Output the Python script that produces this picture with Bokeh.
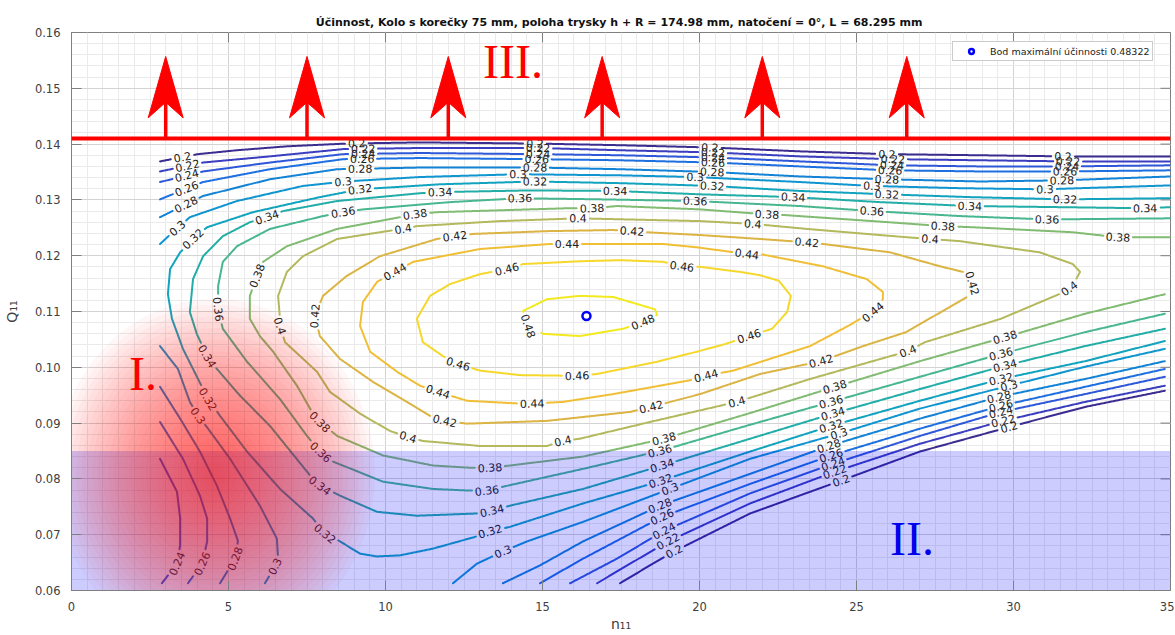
import numpy as np
from bokeh.plotting import figure
from bokeh.models import (Range1d, SingleIntervalTicker, NumeralTickFormatter,
                          ColumnDataSource, Legend, LegendItem, Span)
from bokeh.core.properties import value
from bokeh.embed import file_html
from bokeh.resources import INLINE

# ---------------------------------------------------------------- data
TITLE = ("Účinnost, Kolo s korečky 75 mm,  poloha trysky h + R = 174.98 mm, "
         "natočení = 0°, L = 68.295 mm")
X_TICKS = [0, 5, 10, 15, 20, 25, 30, 35]
Y_TICKS = [0.06, 0.07, 0.08, 0.09, 0.10, 0.11, 0.12, 0.13, 0.14, 0.15, 0.16]
LEVELS = [0.20, 0.22, 0.24, 0.26, 0.28, 0.30, 0.32, 0.34, 0.36, 0.38,
          0.40, 0.42, 0.44, 0.46, 0.48]

# contour 0.20
c20t_x = [2.82, 4.03, 5.27, 6.86, 8.77, 11.10, 14.76, 17.47, 20.33, 23.20, 25.97, 28.93, 31.58, 35.0]
c20t_y = [.1369, .1382, .1389, .1396, .1401, .1403, .1401, .1398, .1394, .1387, .1382, .1380, .1378, .1378]
c20r_x = [17.47, 18.42, 19.19, 21.61, 24.51, 27.02, 29.86, 32.28, 34.82]
c20r_y = [.0613, .0645, .0670, .0738, .0797, .0849, .0893, .0929, .0958]
# contour 0.22
c22t_x = [2.82, 4.19, 6.32, 8.65, 11.10, 14.86, 17.47, 20.43, 23.20, 26.16, 28.93, 31.74, 35.0]
c22t_y = [.1351, .1367, .1378, .1391, .1393, .1393, .1389, .1385, .1378, .1373, .1371, .1369, .1369]
c22r_x = [16.74, 17.79, 19.00, 21.61, 24.31, 27.02, 29.67, 32.28, 34.82]
c22r_y = [.0613, .0648, .0688, .0756, .0813, .0863, .0904, .0938, .0967]
# contour 0.24
c24t_x = [2.82, 4.19, 6.32, 8.65, 11.10, 14.86, 17.47, 20.43, 23.20, 26.13, 28.93, 31.70, 35.0]
c24t_y = [.1332, .1351, .1367, .1382, .1384, .1382, .1380, .1376, .1369, .1362, .1360, .1360, .1362]
c24r_x = [15.88, 17.37, 18.87, 21.61, 24.25, 27.02, 29.60, 32.28, 34.82]
c24r_y = [.0613, .0657, .0707, .0774, .0827, .0877, .0920, .0952, .0983]
c24l_x = [2.82, 3.36, 3.46, 3.46, 3.36, 2.88]
c24l_y = [.0836, .0777, .0729, .0681, .0648, .0613]
# contour 0.26
c26t_x = [2.82, 4.19, 6.32, 8.65, 11.10, 14.82, 17.47, 20.43, 23.20, 26.07, 28.93, 31.64, 35.0]
c26t_y = [.1301, .1332, .1355, .1373, .1375, .1373, .1371, .1367, .1360, .1353, .1351, .1351, .1353]
c26r_x = [14.92, 16.29, 18.81, 21.61, 24.19, 27.02, 29.60, 32.28, 34.82]
c26r_y = [.0613, .0657, .0732, .0791, .0842, .0890, .0931, .0965, .0997]
c26l_x = [2.82, 3.55, 4.09, 4.32, 4.32, 4.16, 3.71]
c26l_y = [.0902, .0836, .0770, .0729, .0688, .0648, .0613]
# contour 0.28
c28t_x = [2.82, 4.19, 6.32, 8.46, 11.10, 14.76, 17.47, 20.40, 23.20, 25.97, 28.93, 31.54, 35.0]
c28t_y = [.1269, .1307, .1337, .1355, .1358, .1358, .1355, .1350, .1342, .1337, .1333, .1335, .1342]
c28r_x = [13.74, 14.92, 16.29, 18.74, 21.61, 24.12, 27.02, 29.54, 32.28, 34.82]
c28r_y = [.0613, .0645, .0688, .0752, .0809, .0859, .0908, .0947, .0979, .1011]
c28l_x = [2.82, 3.46, 4.09, 4.63, 5.05, 5.30, 5.21, 4.73]
c28l_y = [.0965, .0908, .0849, .0788, .0729, .0689, .0657, .0613]
# contour 0.30
c30t_x = [2.82, 3.30, 3.77, 5.27, 7.37, 8.71, 11.10, 14.22, 17.47, 19.86, 23.20, 25.49, 28.30, 31.00, 35.0]
c30t_y = [.1221, .1246, .1269, .1298, .1325, .1333, .1341, .1346, .1344, .1341, .1332, .1325, .1321, .1319, .1326]
c30r_x = [12.15, 12.91, 13.74, 14.51, 16.29, 19.06, 21.61, 24.44, 27.02, 29.86, 32.28, 34.82]
c30r_y = [.0613, .0648, .0670, .0688, .0723, .0782, .0836, .0881, .0926, .0967, .1001, .1033]
c30l_x = [2.82, 3.39, 3.77, 4.03, 4.35, 5.05, 6.00, 6.54, 6.58, 6.48, 6.16]
c30l_y = [.1038, .0997, .0938, .0913, .0890, .0836, .0752, .0693, .0657, .0643, .0613]
# contour 0.32
c32_x = [34.82, 32.28, 29.60, 27.02, 24.19, 21.61, 18.58, 16.29, 13.96, 13.33, 12.91, 11.51, 10.46,
         9.73, 9.19, 8.55, 8.07, 7.69, 6.64, 5.59, 4.73, 4.35, 4.03, 3.55, 3.20, 3.07, 3.14, 3.46,
         3.87, 4.32, 5.78, 7.91, 9.19, 11.74, 14.76, 17.47, 20.40, 23.20, 25.97, 28.61, 31.64, 35.0]
c32_y = [.1047, .1011, .0979, .0940, .0895, .0849, .0793, .0756, .0714, .0706, .0697, .0675, .0663,
         .0661, .0666, .0688, .0702, .0729, .0782, .0849, .0913, .0943, .0979, .1033, .1087, .1131, .1176, .1206,
         .1230, .1251, .1278, .1305, .1319, .1328, .1333, .1330, .1325, .1316, .1310, .1305, .1301, .1303]
# contour 0.34
c34_x = [35.0, 34.19, 31.48, 28.61, 25.75, 22.98, 20.02, 17.31, 14.60, 11.74, 11.10, 8.46, 6.74, 6.23,
         5.68, 4.82, 4.19, 3.87, 3.77, 3.99, 4.32, 4.63, 5.37, 6.32, 7.60, 7.91, 8.55, 9.73, 11.00,
         12.91, 13.39, 13.96, 16.29, 18.81, 21.61, 24.25, 27.02, 29.73, 32.28, 34.82]
c34_y = [.1287, .1285, .1287, .1289, .1296, .1305, .1310, .1316, .1317, .1314, .1312, .1298, .1280, .1269,
         .1260, .1235, .1199, .1158, .1099, .1060, .1020, .0997, .0949, .0895, .0806, .0788, .0770, .0741, .0734,
         .0738, .0743, .0752, .0782, .0824, .0872, .0917, .0961, .1003, .1038, .1069]
# contour 0.36
c36_x = [35.0, 31.07, 28.30, 25.49, 23.20, 19.86, 16.83, 14.28, 12.05, 9.28, 8.65, 8.01, 6.32, 5.27,
         4.82, 4.67, 4.67, 4.82, 5.59, 6.64, 7.50, 7.91, 8.33, 9.92, 11.51, 12.69, 13.23, 13.74, 16.29,
         18.74, 21.61, 24.19, 27.02, 29.60, 32.28, 34.82]
c36_y = [.1267, .1265, .1271, .1280, .1289, .1298, .1301, .1303, .1296, .1283, .1278, .1271, .1248, .1217,
         .1189, .1146, .1104, .1069, .1010, .0943, .0877, .0849, .0831, .0795, .0782, .0779, .0779, .0786, .0818,
         .0850, .0897, .0938, .0983, .1024, .1063, .1096]
# contour 0.38
c38_x = [35.0, 33.33, 31.89, 28.71, 27.75, 25.52, 22.66, 22.15, 20.02, 17.37, 16.58, 15.78, 11.64, 10.94,
         10.46, 8.46, 6.86, 6.10, 5.91, 5.68, 5.68, 6.00, 6.42, 7.18, 7.66, 7.91, 8.46, 9.92, 11.51, 12.69,
         13.33, 13.96, 16.29, 18.87, 21.61, 24.31, 27.02, 29.73, 32.28, 34.82]
c38_y = [.1233, .1233, .1242, .1251, .1253, .1262, .1273, .1274, .1283, .1289, .1285, .1285, .1278, .1274,
         .1269, .1248, .1217, .1189, .1164, .1128, .1087, .1056, .1028, .0967, .0920, .0902, .0877, .0842, .0824, .0820,
         .0820, .0824, .0840, .0872, .0918, .0965, .1011, .1054, .1096, .1131]
# contour 0.40 (closed)
c40_x = [6.64, 6.80, 7.82, 8.23, 9.19, 10.14, 10.72, 11.19, 13.01, 15.14, 15.65, 16.19, 18.42, 21.19,
         23.52, 26.64, 27.18, 29.60, 31.45, 31.86, 32.12, 31.89, 30.84, 28.30, 27.34, 26.61, 23.42, 21.70,
         20.02, 16.13, 13.65, 11.00, 10.56, 10.05, 8.46, 7.37, 6.86, 6.58, 6.64, 6.64]
c40_y = [.1074, .1045, .0992, .0956, .0917, .0886, .0875, .0868, .0859, .0859, .0868, .0872, .0902, .0938,
         .0979, .1029, .1045, .1087, .1131, .1144, .1171, .1185, .1206, .1226, .1230, .1233, .1248, .1257,
         .1262, .1267, .1262, .1253, .1248, .1244, .1230, .1199, .1171, .1128, .1087, .1074]
# contour 0.42 (closed)
c42_x = [28.39, 27.66, 26.07, 23.93, 23.42, 21.93, 20.02, 18.33, 17.85, 17.25, 15.14, 12.79, 12.21,
         11.64, 9.82, 8.77, 8.01, 7.75, 7.91, 8.55, 9.60, 10.68, 11.42, 11.89, 12.60, 15.14, 17.79, 18.46,
         20.02, 21.93, 23.87, 25.21, 26.58, 28.58, 28.71, 28.39]
c42_y = [.1171, .1181, .1206, .1221, .1224, .1230, .1237, .1242, .1244, .1246, .1244, .1239, .1235,
         .1230, .1199, .1164, .1128, .1092, .1056, .1015, .0974, .0938, .0913, .0904, .0899, .0904, .0920, .0929,
         .0952, .0988, .1011, .1038, .1063, .1128, .1149, .1171]
# contour 0.44 (closed)
c44_x = [21.51, 19.92, 18.84, 16.42, 15.78, 15.24, 13.01, 10.88, 10.30, 9.73, 9.28, 9.19, 9.51, 10.37,
         11.10, 11.67, 12.60, 14.28, 14.67, 15.65, 17.25, 19.92, 20.21, 21.07, 23.52, 24.73, 25.21, 25.52,
         25.84, 25.84, 25.33, 23.93, 21.93, 21.51]
c44_y = [.1203, .1215, .1221, .1221, .1221, .1221, .1212, .1189, .1171, .1153, .1117, .1074, .1028, .0992,
         .0967, .0956, .0940, .0935, .0935, .0938, .0952, .0979, .0985, .0994, .1038, .1074, .1090, .1099,
         .1122, .1135, .1158, .1181, .1203, .1203]
# contour 0.46 (closed)
c46_x = [12.31, 13.01, 14.28, 15.65, 16.10, 16.74, 18.65, 19.92, 20.84, 21.58, 22.31, 22.79, 22.91, 22.53,
         21.93, 21.29, 20.02, 19.44, 18.84, 17.47, 16.19, 14.38, 13.87, 13.01, 12.05, 11.42, 11.00, 11.19,
         11.83, 12.31]
c46_y = [.1006, .0994, .0986, .0985, .0985, .0988, .1010, .1028, .1042, .1056, .1069, .1099, .1128, .1155,
         .1165, .1171, .1180, .1181, .1189, .1192, .1190, .1185, .1176, .1167, .1149, .1128, .1087, .1045,
         .1020, .1006]
# contour 0.48 (closed)
c48_x = [14.54, 14.38, 15.14, 16.19, 17.25, 18.58, 18.65, 18.20, 17.56, 16.19, 15.02, 14.54]
c48_y = [.1074, .1101, .1122, .1128, .1126, .1104, .1094, .1081, .1069, .1056, .1060, .1074]

CONTOURS = [
    (0.20, c20t_x, c20t_y), (0.20, c20r_x, c20r_y),
    (0.22, c22t_x, c22t_y), (0.22, c22r_x, c22r_y),
    (0.24, c24t_x, c24t_y), (0.24, c24r_x, c24r_y), (0.24, c24l_x, c24l_y),
    (0.26, c26t_x, c26t_y), (0.26, c26r_x, c26r_y), (0.26, c26l_x, c26l_y),
    (0.28, c28t_x, c28t_y), (0.28, c28r_x, c28r_y), (0.28, c28l_x, c28l_y),
    (0.30, c30t_x, c30t_y), (0.30, c30r_x, c30r_y), (0.30, c30l_x, c30l_y),
    (0.32, c32_x, c32_y), (0.34, c34_x, c34_y), (0.36, c36_x, c36_y),
    (0.38, c38_x, c38_y), (0.40, c40_x, c40_y), (0.42, c42_x, c42_y),
    (0.44, c44_x, c44_y), (0.46, c46_x, c46_y), (0.48, c48_x, c48_y),
]

# contour label positions (n11, Q11) per level
LABELS = {
    0.20: [(3.55, .1376), (9.09, .1400), (14.76, .1400), (20.33, .1394), (25.97, .1382), (31.58, .1378),
           (19.19, .0670), (24.51, .0797), (29.86, .0893)],
    0.22: [(3.68, .1360), (9.28, .1394), (14.86, .1393), (20.43, .1385), (26.16, .1371), (31.74, .1369),
           (19.00, .0688), (24.31, .0813), (29.67, .0904)],
    0.24: [(3.68, .1341), (9.28, .1385), (14.86, .1384), (20.43, .1376), (26.13, .1362), (31.70, .1360),
           (18.87, .0707), (24.25, .0827), (29.60, .0920), (3.36, .0648)],
    0.26: [(3.68, .1316), (9.25, .1373), (14.82, .1373), (20.43, .1367), (26.07, .1353), (31.64, .1351),
           (18.81, .0732), (24.19, .0842), (29.60, .0931), (4.16, .0648)],
    0.28: [(3.61, .1298), (9.19, .1355), (14.76, .1358), (20.40, .1350), (25.97, .1337), (31.54, .1337),
           (18.74, .0752), (24.12, .0859), (29.54, .0947), (5.21, .0657)],
    0.30: [(3.36, .1251), (8.65, .1333), (14.22, .1346), (19.86, .1341), (25.49, .1325), (31.00, .1319),
           (13.74, .0670), (19.06, .0782), (24.44, .0881), (29.86, .0967), (4.03, .0913), (6.48, .0643)],
    0.32: [(3.87, .1230), (9.19, .1319), (14.76, .1333), (20.40, .1325), (25.97, .1310), (31.64, .1301),
           (4.35, .0943), (8.07, .0702), (13.33, .0706), (18.74, .0800), (24.19, .0895), (29.60, .0979)],
    0.34: [(6.23, .1269), (11.74, .1314), (17.31, .1316), (22.98, .1305), (28.61, .1289), (34.19, .1285),
           (4.32, .1020), (7.91, .0788), (13.39, .0743), (18.81, .0824), (24.25, .0917), (29.73, .1003)],
    0.36: [(8.65, .1278), (14.28, .1303), (19.86, .1298), (25.49, .1280), (31.07, .1265),
           (4.67, .1104), (7.91, .0845), (13.23, .0779), (18.74, .0850), (24.19, .0938), (29.60, .1024)],
    0.38: [(5.91, .1164), (10.94, .1274), (16.58, .1285), (22.15, .1274), (27.75, .1253), (33.33, .1233),
           (7.91, .0902), (13.33, .0820), (18.87, .0872), (24.31, .0965), (29.73, .1054)],
    0.40: [(6.64, .1074), (10.56, .1248), (16.13, .1267), (21.70, .1257), (27.34, .1230), (31.74, .1146),
           (10.72, .0875), (15.65, .0868), (21.19, .0938), (26.64, .1029)],
    0.42: [(7.75, .1092), (12.21, .1235), (17.85, .1244), (23.42, .1224), (28.64, .1149),
           (11.89, .0904), (18.46, .0929), (23.87, .1011)],
    0.44: [(10.30, .1171), (15.78, .1221), (21.51, .1203), (25.52, .1099),
           (11.67, .0956), (14.67, .0935), (20.21, .0985)],
    0.46: [(13.87, .1176), (19.44, .1181), (12.31, .1006), (16.10, .0985), (21.58, .1056)],
    0.48: [(14.54, .1074), (18.20, .1081)],
}

max_n11, max_q11, max_eta = 16.4, 0.1092, 0.48322
Q_LIMIT_III = 0.141          # boundary of region III
Q_LIMIT_II = 0.085           # upper boundary of region II
ARROW_N11 = [3.0, 7.5, 12.0, 16.9, 22.0, 26.6]

# ---------------------------------------------------------------- style
LEVEL_COLORS = ['#3b2c8f', '#3a3ebf', '#2f58d8', '#1e6fe0', '#1383d6', '#0f95cf', '#12a3bf',
                '#22ada8', '#48b78f', '#82bb72', '#b3b95c', '#dbb443', '#f0bf35', '#f5d82b', '#f2ea1e']
FONT = "DejaVu Sans"
AX_COLOR = "#7f7f7f"
X0, X1, Y0, Y1 = 0.0, 35.0, 0.06, 0.16
FRAME_W, FRAME_H = 1099, 559
SX = FRAME_W / (X1 - X0)
SY = FRAME_H / (Y1 - Y0)
LAB_FS = 11.0

p = figure(width=1174, height=634, x_range=Range1d(X0, X1), y_range=Range1d(Y0, Y1),
           output_backend="svg", toolbar_location=None, title=TITLE,
           min_border_left=71, min_border_right=4, min_border_top=32, min_border_bottom=43)
p.background_fill_color = "white"
p.border_fill_color = "white"
p.outline_line_color = AX_COLOR
p.title.text_font = FONT
p.title.text_font_size = "11px"
p.title.text_font_style = "bold"
p.title.align = "center"
p.title.text_color = "#111111"
p.title.standoff = 7

p.xaxis.ticker = SingleIntervalTicker(interval=5, num_minor_ticks=10)
p.yaxis.ticker = SingleIntervalTicker(interval=0.01, num_minor_ticks=5)
p.yaxis.formatter = NumeralTickFormatter(format="0.00")
p.xaxis.axis_label = "n₁₁"
p.yaxis.axis_label = "Q₁₁"
p.axis.major_tick_in = 10
p.axis.major_tick_out = 0
p.axis.minor_tick_line_color = None
p.axis.axis_line_color = AX_COLOR
p.axis.major_tick_line_color = AX_COLOR
p.axis.major_label_text_font = FONT
p.axis.major_label_text_font_size = "11.5px"
p.axis.major_label_text_color = "#404040"
p.axis.major_label_standoff = 7
p.axis.axis_label_text_font = FONT
p.axis.axis_label_text_font_size = "14px"
p.axis.axis_label_text_font_style = "normal"
p.axis.axis_label_text_color = "#404040"
p.xaxis.axis_label_standoff = 2
p.yaxis.axis_label_standoff = 12
p.grid.grid_line_color = "#d3d3d3"
p.grid.minor_grid_line_color = "#eaeaea"

# inner ticks on top / right edges (box like MATLAB)
tl_x, tl_y = 10 / SX, 10 / SY
p.segment(x0=[X1 - tl_x] * len(Y_TICKS), y0=Y_TICKS, x1=[X1] * len(Y_TICKS), y1=Y_TICKS,
          line_color=AX_COLOR, line_width=1)
p.segment(x0=X_TICKS, y0=[Y1] * len(X_TICKS), x1=X_TICKS, y1=[Y1 - tl_y] * len(X_TICKS),
          line_color=AX_COLOR, line_width=1)

# ---------------------------------------------------------------- contour lines with label gaps
def lvl_index(v):
    return int(np.argmin([abs(v - l) for l in LEVELS]))

def text_w(s, fs):
    return sum(0.318 * fs if ch == '.' else 0.636 * fs for ch in s)

dense = []
for lev, xs, ys in CONTOURS:
    sx = np.asarray(xs) * SX
    sy = np.asarray(ys) * SY
    px, py = [sx[0]], [sy[0]]
    for i in range(len(sx) - 1):
        L = np.hypot(sx[i + 1] - sx[i], sy[i + 1] - sy[i])
        n = max(1, int(np.ceil(L)))
        t = np.arange(1, n + 1) / n
        px.extend(sx[i] + t * (sx[i + 1] - sx[i]))
        py.extend(sy[i] + t * (sy[i + 1] - sy[i]))
    dense.append({"lev": lev, "px": np.array(px), "py": np.array(py),
                  "keep": np.ones(len(px), dtype=bool)})

lab_x, lab_y, lab_t, lab_a = [], [], [], []
for lev, pts in LABELS.items():
    txt = f"{lev:g}"
    r = text_w(txt, LAB_FS) / 2 + 2.5
    cands = [d for d in dense if abs(d["lev"] - lev) < 1e-9]
    for (x, y) in pts:
        qx, qy = x * SX, y * SY
        best = None
        for d in cands:
            dist = np.hypot(d["px"] - qx, d["py"] - qy)
            i = int(np.argmin(dist))
            if best is None or dist[i] < best[0]:
                best = (dist[i], d, i)
        _, d, i = best
        cx, cy = d["px"][i], d["py"][i]
        i0, i1 = max(i - 5, 0), min(i + 5, len(d["px"]) - 1)
        ang = np.arctan2(d["py"][i1] - d["py"][i0], d["px"][i1] - d["px"][i0])
        if ang > np.pi / 2:
            ang -= np.pi
        if ang < -np.pi / 2:
            ang += np.pi
        d["keep"] &= np.hypot(d["px"] - cx, d["py"] - cy) > r
        lab_x.append(cx / SX)
        lab_y.append(cy / SY)
        lab_t.append(txt)
        lab_a.append(float(ang))

ml_xs, ml_ys, ml_c = [], [], []
for d in dense:
    ml_xs.append(np.where(d["keep"], d["px"] / SX, np.nan))
    ml_ys.append(np.where(d["keep"], d["py"] / SY, np.nan))
    ml_c.append(LEVEL_COLORS[lvl_index(d["lev"])])
p.multi_line(xs=ml_xs, ys=ml_ys, line_color=ml_c, line_width=2,
             line_join="round", line_cap="round")

lab_src = ColumnDataSource(dict(x=lab_x, y=lab_y, text=lab_t, angle=lab_a))
p.text(x="x", y="y", text="text", angle="angle", source=lab_src,
       text_font=value(FONT), text_font_size=f"{LAB_FS}px", text_color="#222222",
       text_align="center", text_baseline="middle")

# maximum point
mx = p.scatter([max_n11], [max_q11], marker="circle", size=8, fill_color=None,
               line_color="#0000ff", line_width=2.5)

# ---------------------------------------------------------------- region overlays
p.quad(left=[X0], right=[X1], bottom=[Y0], top=[Q_LIMIT_II],
       fill_color="#0000ff", fill_alpha=0.2, line_color=None)

blob_n = 30
blob_f = np.linspace(1.0, 1.0 / blob_n, blob_n)
p.ellipse(x=[4.57] * blob_n, y=[0.0809] * blob_n, width=list(320 * blob_f),
          height=list(350 * blob_f), width_units="screen", height_units="screen",
          fill_color="#ff1010", fill_alpha=0.037, line_color=None)

# region III boundary with arrows
for ax in ARROW_N11:
    p.segment(x0=[ax], y0=[Q_LIMIT_III], x1=[ax], y1=[Q_LIMIT_III + 0.0070],
              line_color="#ff0000", line_width=3.5)
hw = 17.5 / SX
p.patches(xs=[[ax, ax + hw, ax, ax - hw] for ax in ARROW_N11],
          ys=[[0.1557, 0.1447, 0.1475, 0.1447] for _ in ARROW_N11],
          fill_color="#ff0000", line_color="#ff0000", line_width=1)
p.add_layout(Span(location=Q_LIMIT_III, dimension="width", line_color="#ff0000", line_width=4))

p.text(x=[2.28], y=[0.0988], text=["I."], text_font=value("Liberation Serif"),
       text_font_size="48px", text_color="#ff0000", text_align="center", text_baseline="middle")
p.text(x=[26.77], y=[0.0693], text=["II."], text_font=value("Liberation Serif"),
       text_font_size="48px", text_color="#0000ee", text_align="center", text_baseline="middle")
p.text(x=[14.06], y=[0.1548], text=["III."], text_font=value("Liberation Serif"),
       text_font_size="48px", text_color="#ff0000", text_align="center", text_baseline="middle")

# legend
legend = Legend(items=[LegendItem(label=f"Bod maximální účinnosti {max_eta}", renderers=[mx])],
                location=(881, 529), padding=3, margin=0, spacing=0,
                glyph_width=30, glyph_height=12, label_height=12, label_standoff=4,
                label_text_font=FONT, label_text_font_size="9.5px", label_text_color="#222222",
                border_line_color="#9a9a9a", border_line_width=1,
                background_fill_color="white", background_fill_alpha=1.0)
p.add_layout(legend)

open("out.html", "w").write(file_html(p, INLINE))
